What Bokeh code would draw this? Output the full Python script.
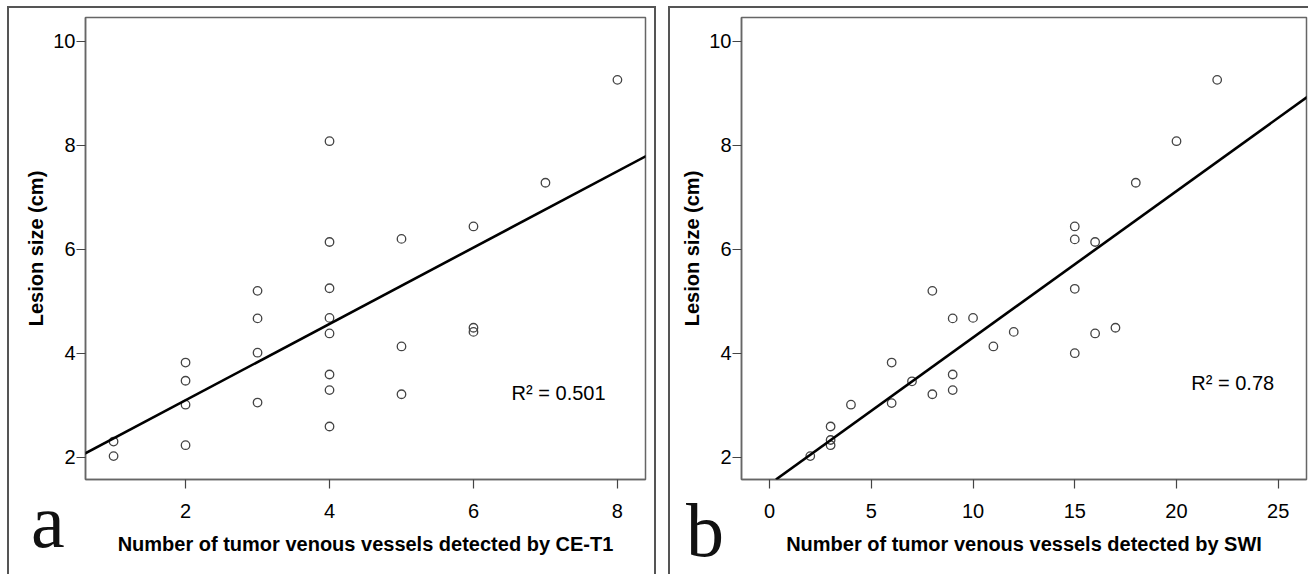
import numpy as np
from bokeh.plotting import figure
from bokeh.models import Label, Slope, Range1d, FixedTicker, Div
from bokeh.layouts import row
from bokeh.embed import file_html
from bokeh.resources import INLINE

# ---- data ----
ce_t1_counts = [1, 1, 2, 2, 2, 2, 3, 3, 3, 3, 4, 4, 4, 4, 4, 4, 4, 4, 5, 5, 5, 6, 6, 6, 7, 8]
ce_t1_sizes = [2.30, 2.02, 3.82, 3.47, 3.01, 2.23, 5.20, 4.67, 4.01, 3.05,
               8.08, 6.14, 5.25, 4.68, 4.38, 3.59, 3.29, 2.59, 6.20, 4.13,
               3.21, 6.44, 4.49, 4.41, 7.28, 9.26]
swi_counts = [2, 3, 3, 3, 4, 6, 6, 7, 8, 8, 9, 9, 9, 10, 11, 12, 15, 15, 15, 15, 16, 16, 17, 18, 20, 22]
swi_sizes = [2.02, 2.23, 2.33, 2.59, 3.01, 3.82, 3.04, 3.46, 5.20, 3.21,
             4.67, 3.59, 3.29, 4.68, 4.13, 4.41, 6.44, 6.19, 5.24, 4.00,
             6.14, 4.38, 4.49, 7.28, 8.08, 9.26]
r2_ce_t1 = "0.501"
r2_swi = "0.78"
y_ticks = [2, 4, 6, 8, 10]
x_ticks_ce_t1 = [2, 4, 6, 8]
x_ticks_swi = [0, 5, 10, 15, 20, 25]
x_title_ce_t1 = "Number of tumor venous vessels detected by CE-T1"
x_title_swi = "Number of tumor venous vessels detected by SWI"
y_title = "Lesion size (cm)"
panel_letters = ["a", "b"]

FONT = "Liberation Sans"
H = 574


def panel(xs, ys, width, xr, xticks, xtitle, r2, r2pos, border_left, border_right):
    p = figure(width=width, height=H, x_range=Range1d(*xr), y_range=Range1d(1.57, 10.46),
               output_backend="svg", toolbar_location=None,
               min_border_left=border_left, min_border_right=border_right,
               min_border_top=17, min_border_bottom=H - 479)
    p.grid.visible = False
    p.background_fill_color = "white"
    p.border_fill_color = "white"
    p.outline_line_color = "#666666"
    p.outline_line_width = 1.5
    p.outline_line_alpha = 1

    for ax in (p.xaxis[0], p.yaxis[0]):
        ax.axis_line_color = "#666666"
        ax.axis_line_width = 1.5
        ax.major_tick_line_color = "#444444"
        ax.major_tick_line_width = 1.2
        ax.major_tick_in = 0
        ax.major_tick_out = 9
        ax.minor_tick_line_color = None
        ax.major_label_text_font = FONT
        ax.major_label_text_font_size = "20px"
        ax.major_label_text_color = "black"
        ax.axis_label_text_font = FONT
        ax.axis_label_text_font_size = "20px"
        ax.axis_label_text_font_style = "bold"
        ax.axis_label_text_color = "black"

    p.xaxis.ticker = FixedTicker(ticks=xticks)
    p.yaxis.ticker = FixedTicker(ticks=y_ticks)
    p.xaxis.axis_label = xtitle
    p.yaxis.axis_label = y_title
    p.xaxis.major_label_standoff = 15
    p.xaxis.axis_label_standoff = 12
    p.yaxis.major_label_standoff = 1
    p.yaxis.axis_label_standoff = 3

    slope, intercept = np.polyfit(np.array(xs, float), np.array(ys, float), 1)
    p.add_layout(Slope(gradient=float(slope), y_intercept=float(intercept),
                       line_color="black", line_width=2.6))

    p.scatter(xs, ys, marker="circle", size=8.5, fill_color=None,
              line_color="#444444", line_width=1.3)

    p.add_layout(Label(x=r2pos[0], y=r2pos[1], text="R\u00b2 = " + r2,
                       text_font=FONT, text_font_size="20px", text_color="black",
                       text_baseline="alphabetic"))
    return p


def box_div(left, top, width, height, sides):
    st = {"position": "absolute", "left": f"{left}px", "top": f"{top}px",
          "width": f"{width}px", "height": f"{height}px", "box-sizing": "border-box",
          "z-index": "10", "pointer-events": "none"}
    for s in sides:
        st[f"border-{s}"] = "2px solid #555555"
    return Div(text="", margin=0, width=width, height=height, styles=st)


def letter_div(letter, left, top):
    st = {"position": "absolute", "left": f"{left}px", "top": f"{top}px",
          "font-family": "'Liberation Serif'", "font-size": "76px", "line-height": "60px",
          "color": "#111111", "z-index": "11", "margin": "0", "padding": "0"}
    return Div(text=letter, margin=0, styles=st)


p1 = panel(ce_t1_counts, ce_t1_sizes, 661, (0.61, 8.39), x_ticks_ce_t1, x_title_ce_t1,
           r2_ce_t1, (6.53, 3.23), 85, 16)
p2 = panel(swi_counts, swi_sizes, 647, (-1.38, 26.39), x_ticks_swi, x_title_swi,
           r2_swi, (20.73, 3.42), 80, 2)

b1 = box_div(7, 6, 649, 568, ["left", "top", "right"])
b2 = box_div(668, 6, 640, 568, ["left", "top"])
la = letter_div(panel_letters[0], 31, 491)
lb = letter_div(panel_letters[1], 686, 500)

layout = row(p1, p2, b1, b2, la, lb, spacing=0)
open("out.html", "w").write(file_html(layout, INLINE))
